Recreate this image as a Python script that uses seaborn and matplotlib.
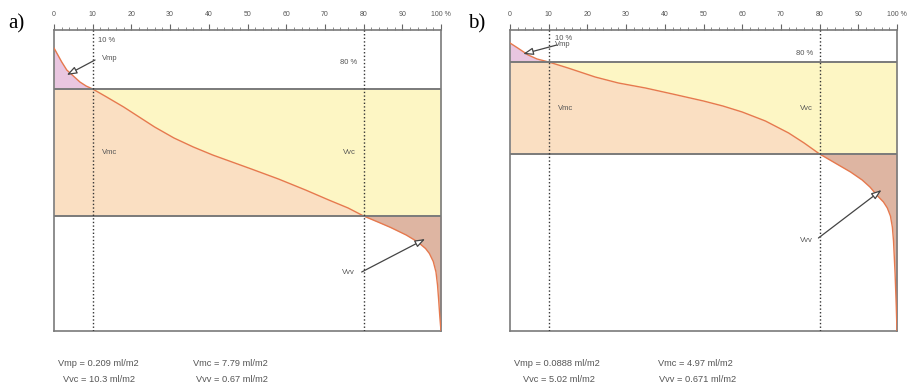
import numpy as np
import pandas as pd
import matplotlib
matplotlib.use("Agg")
import matplotlib.pyplot as plt
import seaborn as sns

# ---------------- data ----------------
# Panel a: bearing ratio (%) and height (arbitrary units)
mr_a = [0, 1, 2, 3.3, 5, 6.7, 8.3, 10, 13.6, 18, 22, 26, 31, 36, 41, 46, 51, 58, 65, 71,
        76, 80, 84, 87, 91, 94, 96, 97, 98, 98.7, 99.1, 99.4, 99.7, 100]
h_a = [28.3, 27.6, 26.9, 26.1, 25.5, 24.9, 24.5, 24.2, 23.4, 22.4, 21.4, 20.4, 19.3, 18.4,
       17.6, 16.9, 16.2, 15.2, 14.1, 13.1, 12.3, 11.5, 10.85, 10.35, 9.6, 8.9, 8.25, 7.75,
       6.95, 5.9, 4.6, 3.1, 1.4, 0.0]
upper_a, lower_a = 24.2, 11.5

# Panel b
mr_b = [0, 2, 4.7, 7, 10, 15, 22, 28, 35, 42, 50, 55, 60, 66, 72, 76, 80, 84, 88, 91,
        93, 95, 96.5, 97.5, 98.3, 98.8, 99.1, 99.5, 99.8, 100]
h_b = [28.8, 28.3, 27.6, 27.2, 26.9, 26.3, 25.4, 24.8, 24.3, 23.7, 23.0, 22.5, 21.9, 21.0,
       19.8, 18.8, 17.7, 16.8, 15.9, 15.1, 14.4, 13.5, 12.9, 12.3, 11.5, 10.4, 9.0, 5.8,
       2.6, 0.0]
upper_b, lower_b = 26.9, 17.7

tick_vals = [0, 10, 20, 30, 40, 50, 60, 70, 80, 90, 100]
tick_labels = ["0", "10", "20", "30", "40", "50", "60", "70", "80", "90", "100 %"]

results_a = ["Vmp = 0.209 ml/m2", "Vmc = 7.79 ml/m2", "Vvc = 10.3 ml/m2", "Vvv = 0.67 ml/m2"]
results_b = ["Vmp = 0.0888 ml/m2", "Vmc = 4.97 ml/m2", "Vvc = 5.02 ml/m2", "Vvv = 0.671 ml/m2"]

# ---------------- style ----------------
sns.set_theme(style="white")
plt.rcParams["font.family"] = ["Liberation Sans", "DejaVu Sans"]

C_PINK = "#E9C6E0"
C_PEACH = "#FADFC2"
C_YELLOW = "#FDF6C4"
C_BROWN = "#DEB5A2"
C_CURVE = "#E6794E"
C_GRAY = "#7A7A7A"
C_TEXT = "#555555"

fig = plt.figure(figsize=(9.14, 3.84), dpi=100)
W, H = 914, 384
YTOP = 30.1


def make_panel(left_px, mr, h, up, low, lab_pos, arrows):
    ax = fig.add_axes([left_px / W, 1 - 331 / H, 387 / W, 301 / H])
    mr = np.asarray(mr, float)
    h = np.asarray(h, float)
    # fills
    ax.fill_between(mr, up, np.maximum(h, up), color=C_PINK, lw=0, zorder=1)
    ax.fill_between(mr, low, np.clip(h, low, up), color=C_PEACH, lw=0, zorder=1)
    ax.fill_between(mr, np.clip(h, low, up), up, color=C_YELLOW, lw=0, zorder=1)
    ax.fill_between(mr, np.minimum(h, low), low, color=C_BROWN, lw=0, zorder=1)
    # curve
    df = pd.DataFrame({"mr": mr, "h": h})
    sns.lineplot(data=df, x="mr", y="h", ax=ax, color=C_CURVE, lw=1.0, zorder=3,
                 sort=False)
    # horizontal levels
    ax.axhline(up, color=C_GRAY, lw=1.4, zorder=4)
    ax.axhline(low, color=C_GRAY, lw=1.4, zorder=4)
    # dotted verticals
    for xv in (10, 80):
        ax.axvline(xv, color="#333333", lw=1.0, ls=(0, (1, 1.6)), zorder=5)
    ax.set_xlim(0, 100)
    ax.set_ylim(0, YTOP)
    ax.set_xlabel("")
    ax.set_ylabel("")
    ax.set_yticks([])
    ax.xaxis.tick_top()
    ax.set_xticks(tick_vals)
    ax.set_xticklabels(tick_labels)
    ax.set_xticks(np.arange(0, 101, 2), minor=True)
    ax.tick_params(axis="x", which="major", direction="out", length=4, width=0.8,
                   color="#666666", labelsize=5, labelcolor=C_TEXT, pad=5,
                   top=True, bottom=False)
    ax.tick_params(axis="x", which="minor", direction="out", length=2, width=0.6,
                   color="#777777", top=True, bottom=False)
    for s in ax.spines.values():
        s.set_color(C_GRAY)
        s.set_linewidth(1.2)
    # labels
    for txt, (x, y, ha) in lab_pos.items():
        ax.text(x, y, txt, fontsize=5.5, color=C_TEXT, ha=ha, va="center", zorder=6)
    for tail, head in arrows:
        ax.annotate("", xy=head, xytext=tail, zorder=7,
                    arrowprops=dict(arrowstyle="-|>,head_length=0.5,head_width=0.18",
                                    fc="white", ec="#444444", lw=0.9,
                                    shrinkA=0, shrinkB=0))
    return ax


lab_a = {"10 %": (11.4, 29.1, "left"), "Vmp": (12.3, 27.3, "left"),
         "80 %": (78.3, 26.9, "right"), "Vmc": (12.3, 17.9, "left"),
         "Vvc": (78.0, 17.9, "right"), "Vvv": (77.8, 5.9, "right")}
arr_a = [((10.6, 27.1), (3.3, 25.6)), ((79.5, 5.9), (95.9, 9.2))]
make_panel(54, mr_a, h_a, upper_a, lower_a, lab_a, arr_a)

lab_b = {"10 %": (11.6, 29.3, "left"), "Vmp": (11.6, 28.7, "left"),
         "80 %": (78.3, 27.8, "right"), "Vmc": (12.4, 22.3, "left"),
         "Vvc": (78.3, 22.3, "right"), "Vvv": (78.3, 9.1, "right")}
arr_b = [((12.1, 28.6), (3.4, 27.7)), ((79.7, 9.3), (96.0, 14.1))]
make_panel(510, mr_b, h_b, upper_b, lower_b, lab_b, arr_b)

# panel letters
fig.text(8 / W, 1 - 24 / H, "a)", fontsize=15, family=["Liberation Serif", "DejaVu Serif"],
         ha="left", va="center", color="black")
fig.text(468 / W, 1 - 24 / H, "b)", fontsize=15, family=["Liberation Serif", "DejaVu Serif"],
         ha="left", va="center", color="black")

# results text
def results(lefts, texts):
    ys = [363, 363, 380, 380]
    for (lx, t, y) in zip(lefts, texts, ys):
        fig.text(lx / W, 1 - y / H, t, fontsize=6.7, color=C_TEXT, ha="left", va="center")

results([58, 193, 63, 196], results_a)
results([514, 658, 523, 659], results_b)

fig.savefig("out.png", dpi=100, facecolor="white")
